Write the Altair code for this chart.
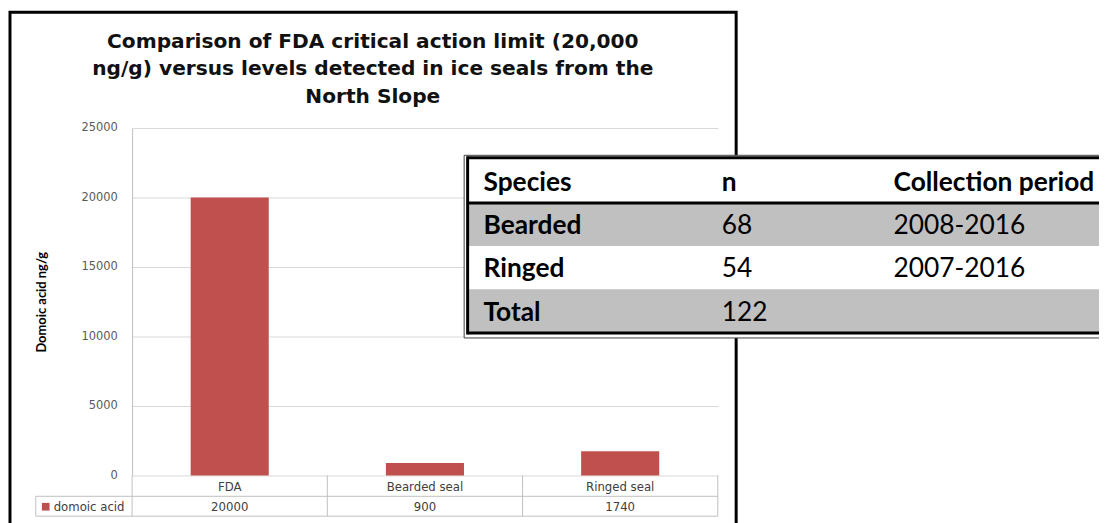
import altair as alt
import pandas as pd

# ---------------- data ----------------
categories = ["FDA", "Bearded seal", "Ringed seal"]
values = [20000, 900, 1740]
series_name = "domoic acid"
y_ticks = [0, 5000, 10000, 15000, 20000, 25000]

title_lines = [
    "Comparison of  FDA critical action limit (20,000",
    "ng/g) versus levels detected in ice seals from the",
    "North Slope",
]
y_title = "Domoic acid ng/g"

table_header = ["Species", "n", "Collection period"]
table_species = ["Bearded", "Ringed", "Total"]
table_n = ["68", "54", "122"]
table_period = ["2008-2016", "2007-2016", ""]

# ---------------- layout (page px -> plot px) ----------------
OX, OY = 133, 127          # page position of plot origin
PW, PH = 590, 350          # plot size
TOTAL_W, TOTAL_H = 1099, 515


def px(x):
    return x - OX


def py(y):
    return y - OY


FONT = "Lato"
WIDE = "DejaVu Sans"
BAR = "#C0504D"
GRID = "#D9D9D9"
TBL = "#BFBFBF"
SMALL = 11.8

one = pd.DataFrame({"k": [0]})


def rule(x1, x2, y1, y2, color, w):
    return alt.Chart(one).mark_rule(color=color, strokeWidth=w).encode(
        x=alt.value(x1), x2=alt.value(x2), y=alt.value(y1), y2=alt.value(y2)
    )


bars_df = pd.DataFrame({"cat": categories, "val": values})
xscale = alt.Scale(domain=categories, paddingInner=0.6, paddingOuter=0.3)
xenc = alt.X("cat:N", sort=categories, scale=xscale, axis=None)

# outer black frame
frame = alt.Chart(one).mark_rect(fill=None, stroke="black", strokeWidth=3).encode(
    x=alt.value(px(10)), x2=alt.value(px(741.5)),
    y=alt.value(py(10.5)), y2=alt.value(py(540)),
)

# chart title (three centred lines)
title_df = pd.DataFrame({"t": ["\n".join(title_lines)]})
title = alt.Chart(title_df).mark_text(
    font=WIDE, fontSize=20.3, fontWeight="bold", color="#111111",
    align="center", baseline="middle", lineBreak="\n", lineHeight=28,
).encode(x=alt.value(px(375.5)), y=alt.value(py(40)), text="t:N")

bars = alt.Chart(bars_df).mark_bar(color=BAR).encode(
    x=xenc,
    y=alt.Y(
        "val:Q",
        scale=alt.Scale(domain=[0, 25000]),
        axis=alt.Axis(
            values=y_ticks, format="d", grid=True, gridColor=GRID,
            domainColor=TBL, ticks=False, labelPadding=15,
            labelFont=WIDE, labelFontSize=11.5, labelColor="#595959",
            title=y_title, titleFont=FONT, titleFontSize=13,
            titleFontWeight="bold", titleColor="black", titlePadding=33,
        ),
    ),
)

# data table under the chart
cat_labels = alt.Chart(bars_df).mark_text(font=WIDE, fontSize=SMALL, color="#404040").encode(
    x=xenc, y=alt.value(py(488.5)), text="cat:N"
)
val_labels = alt.Chart(bars_df).mark_text(font=WIDE, fontSize=SMALL, color="#404040").encode(
    x=xenc, y=alt.value(py(508.5)), text=alt.Text("val:Q", format="d")
)
step = PW / len(categories)
tbl_rules = [
    rule(px(36), PW, py(498), py(498), TBL, 1),
    rule(px(36), PW, py(518), py(518), TBL, 1),
    rule(px(36), px(36), py(498), py(518), TBL, 1),
]
for i in range(len(categories) + 1):
    tbl_rules.append(rule(i * step, i * step, PH, py(518), TBL, 1))

leg_sq = alt.Chart(one).mark_square(size=60, color=BAR, opacity=1).encode(
    x=alt.value(px(46)), y=alt.value(py(508.5))
)
leg_tx = alt.Chart(pd.DataFrame({"t": [series_name]})).mark_text(
    font=WIDE, fontSize=SMALL, color="#404040", align="left"
).encode(x=alt.value(px(54)), y=alt.value(py(508.5)), text="t:N")

# ---------------- overlay table ----------------
rows = [table_header[0]] + table_species
shade = ["white", "gray", "white", "gray"]
tab_df = pd.DataFrame({
    "row": rows,
    "shade": shade,
    "c1": rows,
    "c2": [table_header[1]] + table_n,
    "c3": [table_header[2]] + table_period,
})
rowscale = alt.Scale(domain=rows, range=[py(158.5), py(333)], paddingInner=0, paddingOuter=0)
yrow = alt.Y("row:N", sort=rows, scale=rowscale, axis=None)

ov_frame = alt.Chart(one).mark_rect(fill="white", stroke="#404040", strokeWidth=1).encode(
    x=alt.value(px(467.5)), x2=alt.value(px(1120)),
    y=alt.value(py(154.5)), y2=alt.value(py(338.5)),
)
ov_rows = alt.Chart(tab_df).mark_rect().encode(
    y=yrow,
    x=alt.value(px(471)), x2=alt.value(px(1120)),
    color=alt.Color("shade:N", scale=alt.Scale(domain=["white", "gray"], range=["#FFFFFF", "#C0C0C0"]), legend=None),
)
ov_rules = [
    rule(px(471), px(1120), py(157), py(157), "black", 3),
    rule(px(471), px(1120), py(202.5), py(202.5), "black", 3),
    rule(px(471), px(1120), py(333.5), py(333.5), "black", 3),
    rule(px(471), px(471), py(155.5), py(335), "black", 3),
]

hdr_df = tab_df.iloc[:1]
body_df = tab_df.iloc[1:]
TS = 26.5


def tcol(df, field, x, bold):
    return alt.Chart(df).mark_text(
        font=FONT, fontSize=TS, fontWeight="bold" if bold else "normal",
        color="black", align="left", baseline="middle", dy=2,
    ).encode(x=alt.value(px(x)), y=yrow, text=f"{field}:N")


ov_text = [
    tcol(tab_df, "c1", 487, True),
    tcol(hdr_df, "c2", 727, True),
    tcol(hdr_df, "c3", 900, True),
    tcol(body_df, "c2", 727, False),
    tcol(body_df, "c3", 900, False),
]

layers = [frame, title, bars, cat_labels, val_labels, *tbl_rules, leg_sq, leg_tx,
          ov_frame, ov_rows, *ov_rules, *ov_text]

chart = alt.layer(*layers).resolve_scale(y="independent").properties(
    width=PW, height=PH,
    autosize=alt.AutoSizeParams(type="none"),
    padding={"left": OX - 8, "top": OY - 8,
             "right": TOTAL_W - (OX - 8) - PW, "bottom": TOTAL_H - (OY - 8) - PH},
    background="white",
).configure_view(strokeWidth=0)

chart.save("out.html", embed_options={"renderer": "svg", "actions": False})
